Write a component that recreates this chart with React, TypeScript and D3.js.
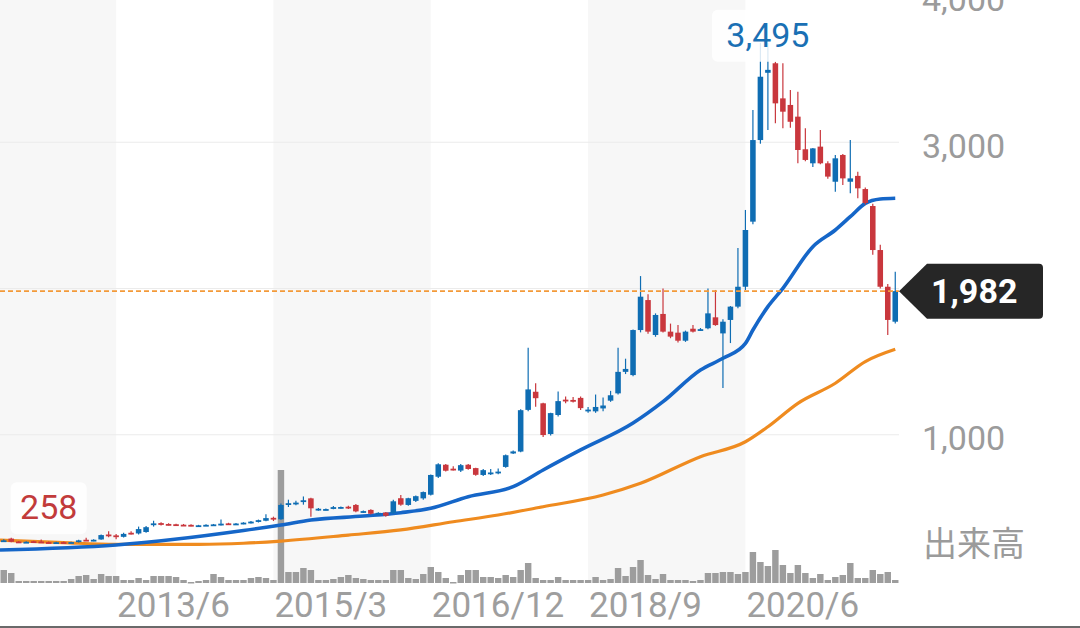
import { useEffect, useRef } from "react";
import * as d3 from "d3";

// monthly candles, 2012/3 .. 2022/2
const startMonth = new Date(2012, 2, 1);
const endMonth = new Date(2022, 2, 1);
const tickLabels = ["2013/6", "2015/3", "2016/12", "2018/9", "2020/6"];
const gridTicks = [1000, 2000, 3000, 4000];
const priceLabels = [1000, 3000, 4000]; // 2,000 sits under the price tag

// [open, high, low, close]
const candles: [number, number, number, number][] = [
  [270, 285, 266, 278], [290, 295, 265, 268], [270, 274, 262, 265], [265, 272, 262, 268],
  [272, 276, 262, 266], [270, 284, 260, 264], [266, 270, 258, 262], [262, 268, 259, 265],
  [266, 270, 260, 263], [263, 268, 260, 266], [266, 282, 263, 278], [282, 295, 274, 278],
  [276, 285, 272, 282], [284, 318, 282, 314], [318, 340, 300, 310], [312, 322, 285, 300],
  [302, 330, 298, 322], [330, 340, 318, 325], [325, 372, 318, 355], [335, 376, 330, 368],
  [385, 412, 372, 394], [396, 402, 380, 386], [390, 395, 380, 384], [388, 392, 378, 382],
  [385, 390, 376, 380], [384, 388, 374, 378], [378, 384, 372, 381], [380, 388, 376, 384],
  [384, 390, 378, 387], [386, 420, 380, 392], [394, 398, 384, 388], [388, 396, 384, 393],
  [392, 402, 388, 399], [398, 410, 394, 406], [404, 420, 400, 416], [412, 456, 408, 430],
  [432, 440, 410, 420], [422, 530, 418, 520], [522, 556, 506, 532], [530, 548, 518, 536],
  [540, 578, 522, 552], [565, 570, 440, 497], [488, 500, 480, 494], [490, 496, 484, 492],
  [494, 512, 490, 505], [500, 510, 494, 506], [508, 514, 492, 498], [520, 526, 470, 476],
  [474, 482, 465, 478], [486, 490, 455, 460], [462, 470, 456, 466], [468, 472, 440, 446],
  [464, 555, 460, 545], [566, 588, 515, 522], [520, 570, 515, 566], [548, 585, 540, 580],
  [565, 612, 555, 608], [590, 728, 585, 725], [713, 805, 705, 798], [795, 800, 748, 754],
  [768, 785, 755, 762], [755, 800, 745, 792], [795, 800, 760, 766], [772, 775, 720, 726],
  [725, 765, 718, 758], [738, 765, 725, 742], [742, 770, 730, 748], [780, 865, 775, 860],
  [872, 892, 868, 886], [885, 1175, 880, 1168], [1170, 1595, 1160, 1310], [1294, 1352, 1192, 1250],
  [1215, 1218, 985, 998], [1005, 1150, 995, 1148], [1135, 1295, 1125, 1230], [1240, 1262, 1215, 1232],
  [1238, 1258, 1220, 1232], [1252, 1262, 1170, 1182], [1165, 1190, 1150, 1172], [1160, 1275, 1150, 1190],
  [1180, 1255, 1160, 1200], [1233, 1300, 1225, 1270], [1283, 1595, 1275, 1430], [1430, 1520, 1415, 1450],
  [1408, 1720, 1400, 1716], [1716, 2085, 1700, 1944], [1921, 1960, 1690, 1705], [1682, 1830, 1670, 1819],
  [1826, 2000, 1700, 1705], [1705, 1760, 1660, 1671], [1698, 1750, 1630, 1643], [1643, 1712, 1635, 1705],
  [1725, 1750, 1700, 1705], [1716, 1730, 1710, 1722], [1728, 2000, 1722, 1830], [1803, 1990, 1745, 1750],
  [1693, 1790, 1320, 1773], [1785, 1880, 1627, 1876], [1876, 2277, 1865, 2012], [2012, 2537, 1990, 2400],
  [2457, 3220, 2440, 3015], [3015, 3680, 2990, 3448], [3475, 3680, 3084, 3495], [3540, 3551, 3130, 3266],
  [3300, 3540, 3095, 3209], [3255, 3357, 3100, 3140], [3175, 3346, 2856, 2947], [2952, 3095, 2870, 2879],
  [2856, 2960, 2830, 2958], [2970, 3084, 2850, 2856], [2856, 2870, 2750, 2765], [2730, 2913, 2662, 2890],
  [2913, 2920, 2708, 2753], [2730, 3015, 2651, 2753], [2770, 2799, 2617, 2685], [2680, 2690, 2575, 2585],
  [2564, 2580, 2230, 2263], [2263, 2300, 2000, 2012], [2012, 2030, 1682, 1785], [1773, 2115, 1760, 1982],
];

const volumes = [
  13, 10, 2, 2, 2, 2, 2, 2, 2, 4, 7, 8, 4, 9, 7, 7, 3, 3, 5, 3,
  7, 7, 7, 6, 3, 1, 2, 3, 9, 6, 3, 3, 3, 5, 6, 5, 3, 113, 11, 11,
  15, 13, 3, 3, 4, 6, 8, 5, 4, 3, 3, 3, 13, 13, 5, 4, 9, 16, 11, 5,
  1, 8, 13, 13, 6, 6, 5, 8, 6, 13, 20, 5, 3, 3, 6, 3, 3, 3, 3, 6,
  3, 4, 15, 7, 16, 23, 8, 4, 9, 3, 3, 3, 2, 3, 10, 10, 11, 11, 9, 11,
  31, 21, 17, 33, 18, 10, 18, 10, 5, 9, 3, 6, 8, 20, 5, 5, 13, 9, 11, 3,
];

// moving averages, [month index, price]
const maShort: [number, number][] = [
  [0, 212], [15, 246], [32, 345], [37, 383], [41, 417], [48, 444], [53, 467], [57, 497],
  [62, 576], [68, 645], [72, 759], [77, 896], [84, 1080], [88, 1226], [93, 1443], [96, 1523],
  [99, 1625], [100, 1716], [102, 1876], [104, 2001], [108, 2286], [111, 2400], [113, 2491],
  [115, 2582], [117, 2612], [119, 2617],
];
const maLong: [number, number][] = [
  [0, 280], [8, 262], [15, 251], [26, 251], [32, 258], [37, 273], [46, 314], [53, 349],
  [60, 405], [66, 451], [72, 508], [80, 588], [85, 668], [93, 850], [99, 952], [102, 1055],
  [106, 1215], [111, 1352], [115, 1500], [119, 1584],
];

const lastPrice = 1982;
const peak = { index: 102, value: 3495 };
const bottom = { index: 6, value: 258 };

const font = "Roboto, 'Noto Sans', sans-serif";
const upColor = "#0f6db3";
const downColor = "#c9373d";

export default function App() {
  const svgRef = useRef<SVGSVGElement | null>(null);

  useEffect(() => {
    if (!svgRef.current) return;
    const svg = d3.select(svgRef.current);
    svg.selectAll("*").remove();

    const width = 1080;
    const height = 628;
    const plotRight = 899;
    const volBase = 583;

    const fmtMonth = d3.timeFormat("%Y/%-m");
    const keys = d3.timeMonth.range(startMonth, endMonth).map(fmtMonth);

    const x = d3.scaleBand().domain(keys).range([0, plotRight]);
    const step = x.step();
    const cx = (i: number) => (x(keys[i]) ?? 0) + step / 2;
    const y = d3.scaleLinear().domain([0, 4000]).range([581, -4]);
    const yv = d3.scaleLinear().domain([0, d3.max(volumes) ?? 1]).range([volBase, 470]);

    svg.append("rect").attr("width", width).attr("height", height).attr("fill", "#fff");

    // alternating background bands between the labelled months
    const edges = [0, ...tickLabels.map(t => cx(keys.indexOf(t))), plotRight];
    svg.append("g")
      .selectAll("rect")
      .data(d3.pairs(edges).filter((_, i) => i % 2 === 0))
      .enter().append("rect")
      .attr("x", d => d[0])
      .attr("width", d => d[1] - d[0])
      .attr("y", 0)
      .attr("height", volBase)
      .attr("fill", "#f7f7f7");

    // grid
    svg.append("g")
      .selectAll("line")
      .data(gridTicks)
      .enter().append("line")
      .attr("x1", 0).attr("x2", plotRight)
      .attr("y1", d => y(d)).attr("y2", d => y(d))
      .attr("stroke", "#ebebeb").attr("stroke-width", 1.2);

    // volume
    const vw = step * 0.86;
    svg.append("g")
      .selectAll("rect")
      .data(volumes)
      .enter().append("rect")
      .attr("x", (_, i) => cx(i) - vw / 2)
      .attr("width", vw)
      .attr("y", d => yv(d))
      .attr("height", d => Math.max(volBase - yv(d), 1.5))
      .attr("fill", "#9d9d9d");

    // moving averages
    const line = d3.line<[number, number]>()
      .x(d => (d[0] === 0 ? 0 : cx(d[0])))
      .y(d => y(d[1]))
      .curve(d3.curveMonotoneX);
    svg.append("path").attr("d", line(maLong) ?? "")
      .attr("fill", "none").attr("stroke", "#ef8b1f").attr("stroke-width", 3.2);
    svg.append("path").attr("d", line(maShort) ?? "")
      .attr("fill", "none").attr("stroke", "#1566c8").attr("stroke-width", 3.6);

    // candles
    const bw = step * 0.74;
    const c = svg.append("g")
      .selectAll("g")
      .data(candles)
      .enter().append("g")
      .attr("fill", d => (d[3] >= d[0] ? upColor : downColor))
      .attr("stroke", d => (d[3] >= d[0] ? upColor : downColor));
    c.append("line")
      .attr("x1", (_, i) => cx(i)).attr("x2", (_, i) => cx(i))
      .attr("y1", d => y(d[1])).attr("y2", d => y(d[2]))
      .attr("stroke-width", 1.2);
    c.append("rect")
      .attr("stroke", "none")
      .attr("x", (_, i) => cx(i) - bw / 2)
      .attr("width", bw)
      .attr("y", d => y(Math.max(d[0], d[3])))
      .attr("height", d => Math.max(Math.abs(y(d[0]) - y(d[3])), 1.8));

    // current price line
    const yl = y(lastPrice);
    svg.append("line")
      .attr("x1", 0).attr("x2", plotRight)
      .attr("y1", yl).attr("y2", yl)
      .attr("stroke", "#f39a3a").attr("stroke-width", 1.8)
      .attr("stroke-dasharray", "5,3");

    // right axis
    const ya = svg.append("g")
      .attr("transform", "translate(922,0)")
      .call(d3.axisRight(y).tickValues(priceLabels).tickSize(0).tickPadding(0).tickFormat(d3.format(",")));
    ya.select(".domain").remove();
    ya.selectAll("text")
      .attr("dy", "0.44em")
      .attr("fill", "#9b9b9b")
      .style("font-family", font)
      .style("font-size", "34px");

    svg.append("text")
      .attr("x", 923).attr("y", 556)
      .attr("fill", "#9b9b9b")
      .style("font-family", "'Noto Sans CJK JP', sans-serif")
      .style("font-size", "34px")
      .text("出来高");

    // bottom axis
    const xa = svg.append("g")
      .attr("transform", `translate(0,${volBase})`)
      .call(d3.axisBottom(x).tickValues(tickLabels).tickSize(0));
    xa.select(".domain").remove();
    xa.selectAll("text")
      .attr("y", 34).attr("dy", 0).attr("x", 1)
      .attr("text-anchor", "start")
      .attr("fill", "#9e9e9e")
      .style("font-family", font)
      .style("font-size", "35px");

    svg.append("rect").attr("x", 0).attr("y", 626).attr("width", width).attr("height", 2).attr("fill", "#6a6a6a");

    // high / low markers
    const marker = (i: number, value: number, top: number, color: string) => {
      const label = d3.format(",")(value);
      const g = svg.append("g");
      const w = label.length * 18 + 22;
      g.append("rect")
        .attr("x", cx(i) - w / 2).attr("y", top)
        .attr("width", w).attr("height", 52).attr("rx", 6)
        .attr("fill", "#fff").attr("fill-opacity", 0.85);
      g.append("text")
        .attr("x", cx(i)).attr("y", top + 37)
        .attr("text-anchor", "middle")
        .attr("fill", color)
        .style("font-family", font)
        .style("font-size", "34px")
        .text(label);
    };
    marker(peak.index, peak.value, y(peak.value) - 60, "#1a70b4");
    marker(bottom.index, bottom.value, y(bottom.value) - 61, "#c23b3b");

    // current price tag
    const tip = 899, left = 927, right = 1043, half = 27.5, r = 4;
    const p = d3.path();
    p.moveTo(tip, yl);
    p.lineTo(left, yl - half);
    p.lineTo(right - r, yl - half);
    p.arcTo(right, yl - half, right, yl - half + r, r);
    p.lineTo(right, yl + half - r);
    p.arcTo(right, yl + half, right - r, yl + half, r);
    p.lineTo(left, yl + half);
    p.closePath();
    svg.append("path").attr("d", p.toString()).attr("fill", "#262626");
    svg.append("text")
      .attr("x", 931).attr("y", yl).attr("dy", "0.36em")
      .attr("fill", "#fff")
      .style("font-family", font)
      .style("font-size", "34px")
      .style("font-weight", "bold")
      .text(d3.format(",")(lastPrice));
  }, []);

  return (
    <svg
      ref={svgRef}
      width={1080}
      height={628}
      style={{ position: "absolute", left: 0, top: 0, display: "block" }}
    />
  );
}
